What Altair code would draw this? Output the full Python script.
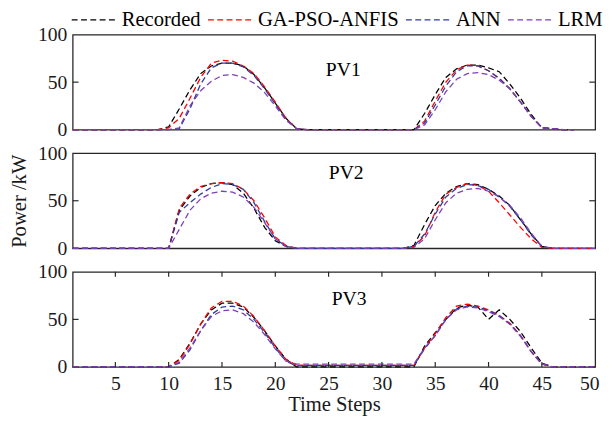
import altair as alt
import pandas as pd

# ---------------- data ----------------
series_names = ["Recorded", "GA-PSO-ANFIS", "ANN", "LRM"]
series_colors = ["#000000", "#FF0000", "#2B3C9B", "#7D3FB5"]
panel_labels = ["PV1", "PV2", "PV3"]

x_tick_values = [5, 10, 15, 20, 25, 30, 35, 40, 45, 50]
x_inner_ticks = [5, 10, 15, 20, 25, 30, 35, 40, 45]
y_tick_values = [0, 50, 100]
y_inner_ticks = [50]

# PV1 (time steps 1..48)
pv1_rec = [0, 0, 0, 0, 0, 0, 0, 0, 0,
           3, 22, 42, 59, 67, 70, 70, 67, 58, 44, 28, 12, 1,
           0, 0, 0, 0, 0, 0, 0, 0, 0, 0,
           0, 17, 37, 55, 64, 68, 68, 65, 61, 48, 33, 16, 2, 1, 0, 0]
pv1_ga = [0, 0, 0, 0, 0, 0, 0, 0, 0,
          2, 12, 33, 55, 70, 73, 72, 67, 59, 45, 29, 12, 1,
          0, 0, 0, 0, 0, 0, 0, 0, 0, 0,
          0, 9, 30, 50, 63, 68, 67, 62, 54, 43, 29, 14, 2, 1, 0, 0]
pv1_ann = [0, 0, 0, 0, 0, 0, 0, 0, 0,
           0, 1, 22, 48, 65, 70, 70, 66, 57, 43, 27, 11, 1,
           0, 0, 0, 0, 0, 0, 0, 0, 0, 0,
           0, 7, 26, 46, 61, 67, 67, 62, 54, 43, 29, 14, 2, 1, 0, 0]
pv1_lrm = [0, 0, 0, 0, 0, 0, 0, 0, 0,
           0, 2, 25, 41, 51, 57, 58, 55, 49, 39, 25, 10, 1,
           0, 0, 0, 0, 0, 0, 0, 0, 0, 0,
           0, 5, 21, 40, 53, 59, 60, 58, 52, 43, 29, 14, 2, 1, 0, 0]

# PV2 (time steps 1..50)
pv2_rec = [0, 0, 0, 0, 0, 0, 0, 0, 0, 0,
           40, 55, 64, 68, 69, 67, 58, 42, 22, 8, 2, 0,
           0, 0, 0, 0, 0, 0, 0, 0, 0, 0,
           3, 25, 45, 58, 65, 68, 67, 62, 55, 45, 30, 15, 2, 0, 0, 0, 0, 0]
pv2_ga = [0, 0, 0, 0, 0, 0, 0, 0, 0, 0,
          42, 57, 65, 68, 69, 68, 62, 50, 32, 12, 3, 0,
          0, 0, 0, 0, 0, 0, 0, 0, 0, 0,
          2, 13, 38, 57, 64, 68, 66, 60, 48, 35, 22, 10, 1, 0, 0, 0, 0, 0]
pv2_ann = [0, 0, 0, 0, 0, 0, 0, 0, 0, 0,
           38, 48, 57, 64, 68, 67, 62, 48, 28, 10, 2, 0,
           0, 0, 0, 0, 0, 0, 0, 0, 0, 0,
           2, 15, 36, 54, 63, 67, 66, 62, 54, 44, 30, 14, 2, 0, 0, 0, 0, 0]
pv2_lrm = [0, 0, 0, 0, 0, 0, 0, 0, 0, 0,
           20, 40, 52, 58, 60, 59, 54, 43, 27, 10, 2, 0,
           0, 0, 0, 0, 0, 0, 0, 0, 0, 0,
           1, 10, 30, 48, 58, 62, 63, 60, 54, 45, 32, 16, 2, 0, 0, 0, 0, 0]

# PV3 (time steps 1..50)
pv3_rec = [0, 0, 0, 0, 0, 0, 0, 0, 0, 0,
           8, 25, 45, 60, 67, 67, 63, 52, 38, 22, 8, 0,
           0, 0, 0, 0, 0, 0, 0, 0, 0, 0, 0,
           22, 36, 50, 62, 65, 63, 50, 60, 50, 37, 20, 4, 0, 0, 0, 0, 0]
pv3_ga = [0, 0, 0, 0, 0, 0, 0, 0, 0, 0,
          7, 24, 45, 62, 69, 69, 64, 53, 38, 22, 8, 2,
          1.5, 1.5, 1.5, 1.5, 1.5, 1.5, 1.5, 1.5, 1.5, 1.5, 1.5,
          20, 35, 52, 64, 66, 64, 60, 54, 46, 33, 16, 3, 0, 0, 0, 0, 0]
pv3_ann = [0, 0, 0, 0, 0, 0, 0, 0, 0, 0,
           4, 18, 38, 55, 63, 64, 60, 50, 36, 20, 6, 1,
           1.5, 1.5, 1.5, 1.5, 1.5, 1.5, 1.5, 1.5, 1.5, 1.5, 1.5,
           19, 33, 50, 61, 64, 63, 59, 54, 45, 33, 16, 3, 0, 0, 0, 0, 0]
pv3_lrm = [0, 0, 0, 0, 0, 0, 0, 0, 0, 0,
           5, 20, 38, 53, 59, 60, 56, 47, 34, 19, 6, 3,
           3, 3, 3, 3, 3, 3, 3, 3, 3, 3, 3,
           20, 33, 50, 60, 63, 62, 58, 53, 45, 32, 16, 3, 0, 0, 0, 0, 0]

panels_data = [
    [pv1_rec, pv1_ga, pv1_ann, pv1_lrm],
    [pv2_rec, pv2_ga, pv2_ann, pv2_lrm],
    [pv3_rec, pv3_ga, pv3_ann, pv3_lrm],
]

# ---------------- styling ----------------
FONT = "Liberation Serif"
W, H = 533, 97
FRAME = "#262626"
DASH = [6, 3.5]
label_pos = [(276, 36), (279, 20), (282, 28)]

x_scale = alt.Scale(domain=[1, 50], nice=False, zero=False)
y_scale = alt.Scale(domain=[0, 100], nice=False)


def make_df(series_list):
    rows = []
    for name, vals in zip(series_names, series_list):
        for i, v in enumerate(vals):
            rows.append({"step": i + 1, "power": v, "series": name})
    return pd.DataFrame(rows)


def panel(idx):
    df = make_df(panels_data[idx])
    is_last = idx == 2
    if is_last:
        x_axis = alt.Axis(values=x_tick_values, ticks=False, domain=False, grid=False,
                          title="Time Steps", labelPadding=7, titlePadding=0,
                          labelFlush=True, labelFlushOffset=4)
    else:
        x_axis = None
    y_axis = alt.Axis(values=y_tick_values, ticks=False, domain=False, grid=False,
                      title="Power /kW" if idx == 1 else None,
                      labelPadding=6, titlePadding=8)
    if idx == 0:
        legend = alt.Legend(orient="none", legendX=-2, legendY=-26, direction="horizontal",
                            title=None, symbolType="stroke", symbolSize=2025,
                            symbolStrokeWidth=1.3, symbolDash=DASH, clipHeight=22,
                            labelFont=FONT, labelFontSize=21, labelColor="#000000",
                            labelOffset=5, columnPadding=6, labelLimit=400,
                            padding=0)
    else:
        legend = None

    lines = alt.Chart(df).mark_line(strokeDash=DASH, strokeWidth=1.3).encode(
        x=alt.X("step:Q", scale=x_scale, axis=x_axis),
        y=alt.Y("power:Q", scale=y_scale, axis=y_axis),
        color=alt.Color("series:N", scale=alt.Scale(domain=series_names, range=series_colors),
                        legend=legend, sort=series_names),
    )

    ydf = pd.DataFrame({"power": y_inner_ticks})
    ytick_l = alt.Chart(ydf).mark_rule(color=FRAME, strokeWidth=1.2).encode(
        y=alt.Y("power:Q", scale=y_scale), x=alt.value(0), x2=alt.value(6))
    ytick_r = alt.Chart(ydf).mark_rule(color=FRAME, strokeWidth=1.2).encode(
        y=alt.Y("power:Q", scale=y_scale), x=alt.value(W - 6), x2=alt.value(W))

    ldf = pd.DataFrame({"label": [panel_labels[idx]]})
    lx, ly = label_pos[idx]
    text = alt.Chart(ldf).mark_text(font=FONT, fontSize=20, color="#000000",
                                    baseline="middle", align="center").encode(
        text="label:N", x=alt.value(lx), y=alt.value(ly))

    layers = [lines, ytick_l, ytick_r, text]
    if is_last:
        xdf = pd.DataFrame({"step": x_inner_ticks})
        xt_top = alt.Chart(xdf).mark_rule(color=FRAME, strokeWidth=1.2).encode(
            x=alt.X("step:Q", scale=x_scale), y=alt.value(0), y2=alt.value(5))
        xt_bot = alt.Chart(xdf).mark_rule(color=FRAME, strokeWidth=1.2).encode(
            x=alt.X("step:Q", scale=x_scale), y=alt.value(H - 5), y2=alt.value(H))
        layers += [xt_top, xt_bot]

    return alt.layer(*layers).properties(width=W, height=H)


chart = alt.vconcat(panel(0), panel(1), panel(2), spacing=24, bounds="flush").resolve_legend(
    color="independent"
).properties(
    padding={"left": 0, "top": -4, "right": 0, "bottom": 0}
).configure_view(
    stroke=FRAME, strokeWidth=1.3
).configure_axis(
    labelFont=FONT, titleFont=FONT, labelFontSize=20, titleFontSize=21,
    labelColor="#1a1a1a", titleColor="#1a1a1a", titleFontWeight="normal"
).configure_text(font=FONT)

chart.save("out.html", embed_options={"renderer": "svg", "actions": False})
